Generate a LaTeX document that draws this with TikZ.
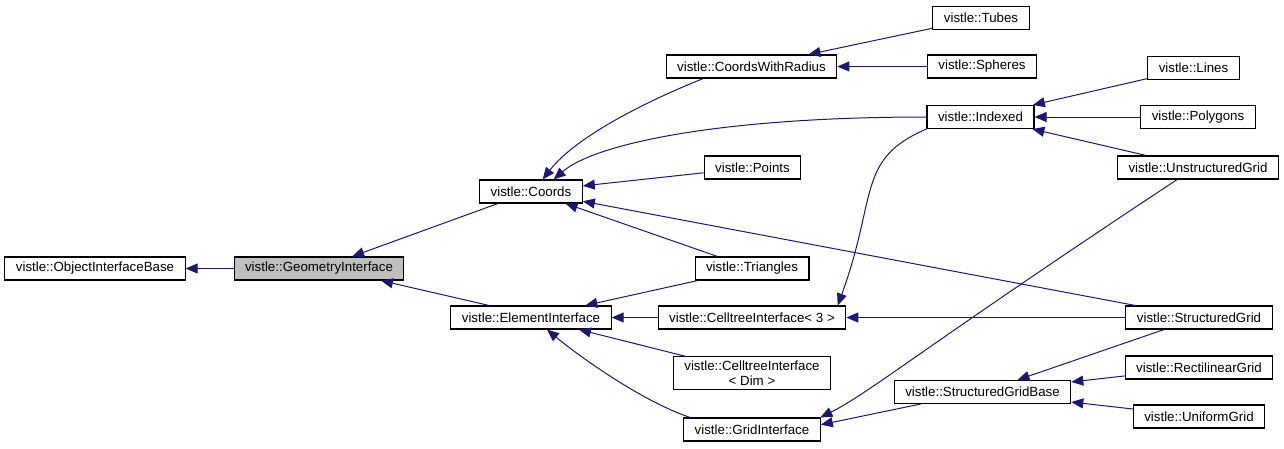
\documentclass[tikz,border=0pt]{standalone}
\usepackage{fontspec}
\setmainfont{Liberation Sans}
\usetikzlibrary{arrows.meta}
\definecolor{Navy}{HTML}{191970}
\definecolor{Gray}{HTML}{BFBFBF}
\colorlet{xedge}{Navy}
\colorlet{xface}{Gray}

\begin{document}
\begin{tikzpicture}[x=1pt,y=-1pt,font=\fontsize{13.3}{15}\selectfont,
    cls/.style={draw,line width=1.1pt,minimum height=23pt,inner xsep=11pt,inner ysep=2pt},
    edge/.style={draw=xedge,line width=1pt,-{Triangle[length=12pt,width=10pt]}}]
    \useasboundingbox (0,0) rectangle (1284,448);
    \node[cls] (oib) at (95,268.5){vistle::ObjectInterfaceBase};
    \node[cls,fill=xface] (geo) at (319,268.5){vistle::GeometryInterface};
    \node[cls] (coords) at (531,191.5){vistle::Coords};
    \node[cls] (element) at (531,317.5){vistle::ElementInterface};
    \node[cls] (cwr) at (751.5,66.5){vistle::CoordsWithRadius};
    \node[cls] (points) at (752.5,167.5){vistle::Points};
    \node[cls] (triangles) at (752,268.5){vistle::Triangles};
    \node[cls] (ci3) at (752,317.5){vistle::CelltreeInterface< 3 >};
    \node[cls,align=center,inner ysep=4pt] (cidim) at (752,373){vistle::CelltreeInterface\\< Dim >};
    \node[cls] (gridif) at (752,429.5){vistle::GridInterface};
    \node[cls] (tubes) at (981,18){vistle::Tubes};
    \node[cls] (spheres) at (982,66.5){vistle::Spheres};
    \node[cls] (indexed) at (980.5,117){vistle::Indexed};
    \node[cls] (sgb) at (982.5,392){vistle::StructuredGridBase};
    \node[cls] (lines) at (1193.5,68){vistle::Lines};
    \node[cls] (polygons) at (1198,117){vistle::Polygons};
    \node[cls] (ug) at (1198,167.5){vistle::UnstructuredGrid};
    \node[cls] (sg) at (1199,317.5){vistle::StructuredGrid};
    \node[cls] (rg) at (1199,367.5){vistle::RectilinearGrid};
    \node[cls] (uniform) at (1199,416.5){vistle::UniformGrid};
    \foreach \a/\b in {geo/oib,coords/geo,points/coords,triangles/coords,sg/coords,
        tubes/cwr,spheres/cwr,lines/indexed,polygons/indexed,ug/indexed,
        triangles/element,ci3/element,cidim/element,sg/ci3,sg/sgb,rg/sgb,uniform/sgb}
      {\draw[edge] (\a) -- (\b);}
    \draw[edge] (element.164) -- (geo.-11);
    \draw[edge] (sgb.191) -- (gridif.4);
    \draw[edge] (cwr.194) .. controls +(-50,20) and +(35,-45) .. (coords.46);
    \draw[edge] (indexed.west) .. controls +(-210,0) and +(40,-35) .. (coords.28);
    \draw[edge] (gridif.169) .. controls +(-50,-17) and +(30,25) .. (element.-37);
    \draw[edge] (indexed.south west) .. controls +(-70,30) and +(40,-110) .. (ci3.8);
    \draw[edge] (ug.-150) .. controls +(-250,165) and +(50,-25) .. (gridif.10);
  \end{tikzpicture}
\end{document}
